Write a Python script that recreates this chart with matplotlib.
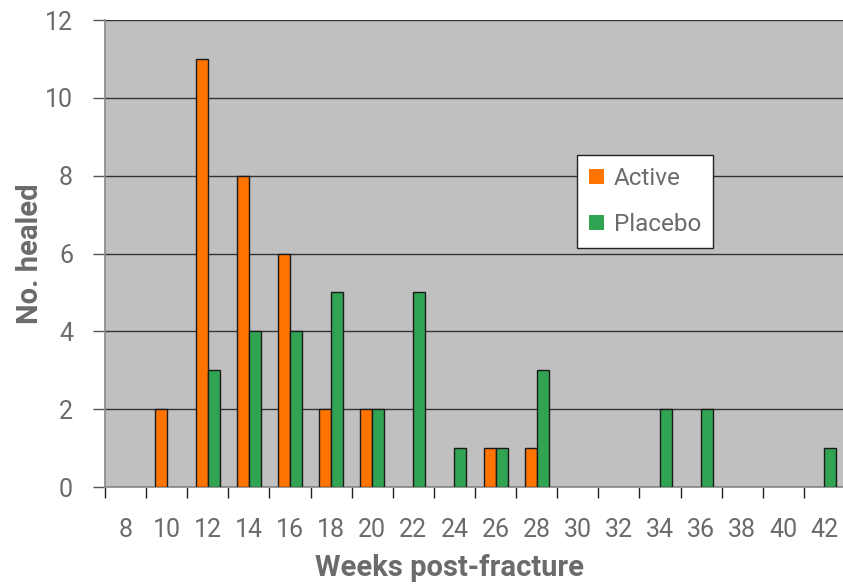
import matplotlib
matplotlib.use("Agg")
import matplotlib.pyplot as plt
import numpy as np

# Number of fractures healed per week bucket
weeks = [8, 10, 12, 14, 16, 18, 20, 22, 24, 26, 28, 30, 32, 34, 36, 38, 40, 42]
active = [0, 2, 11, 8, 6, 2, 2, 0, 0, 1, 1, 0, 0, 0, 0, 0, 0, 0]
placebo = [0, 0, 3, 4, 4, 5, 2, 5, 1, 1, 3, 0, 0, 2, 2, 0, 0, 1]

plt.rcParams['font.family'] = ['Roboto', 'DejaVu Sans']
text_grey = '#6b6b6b'

fig = plt.figure(figsize=(8.43, 5.85), dpi=100)
ax = fig.add_axes([0.1246, 0.1675, 0.8778, 0.7983])
ax.set_facecolor('#c0c0c0')

x = np.arange(len(weeks))
w = 0.29
# no outline on empty bars
ax.bar(x - w / 2, active, w, color='#ff7300', edgecolor='#1a1a1a',
       linewidth=[1.0 if v else 0 for v in active], label='Active', zorder=3)
ax.bar(x + w / 2, placebo, w, color='#30a453', edgecolor='#1a1a1a',
       linewidth=[1.0 if v else 0 for v in placebo], label='Placebo', zorder=3)

ax.set_xlim(-0.5, len(weeks) - 0.5)
ax.set_ylim(0, 12)
ax.set_yticks(range(0, 13, 2))
ax.yaxis.grid(True, color='#333333', linewidth=1.0, zorder=1)
ax.set_axisbelow(True)

# tick marks sit between categories, labels under the centres
ax.set_xticks(np.arange(-0.5, len(weeks), 1))
ax.set_xticklabels([])
ax.set_xticks(x, minor=True)
ax.set_xticklabels([str(v) for v in weeks], minor=True)
ax.tick_params(axis='x', which='major', length=8, width=1, color='#222222', direction='out')
ax.tick_params(axis='x', which='minor', length=0, pad=22, labelsize=18, labelcolor=text_grey)
ax.tick_params(axis='y', length=9, width=1, color='#555555', labelsize=18,
               labelcolor=text_grey, pad=14)

for s in ['top', 'right']:
    ax.spines[s].set_visible(False)
for s in ['left', 'bottom']:
    ax.spines[s].set_color('#888888')
    ax.spines[s].set_linewidth(1.2)

ax.set_ylabel('No. healed', fontsize=21, fontweight='bold', color=text_grey, labelpad=1)
ax.set_xlabel('Weeks post-fracture', fontsize=21, fontweight='bold', color=text_grey)
ax.xaxis.label.set_va('center')
ax.xaxis.set_label_coords(0.466, -0.173)

leg = ax.legend(loc='upper left', bbox_to_anchor=(0.638, 0.711), frameon=True, fancybox=False,
                fontsize=17.5, handlelength=0.6, handleheight=0.6, handletextpad=0.4,
                labelspacing=0.95, borderpad=0.5, borderaxespad=0, labelcolor=text_grey)
leg.get_frame().set_edgecolor('#222222')
leg.get_frame().set_facecolor('white')
leg.get_frame().set_linewidth(1.0)
leg.get_frame().set_alpha(1)

fig.savefig('out.png', dpi=100)
